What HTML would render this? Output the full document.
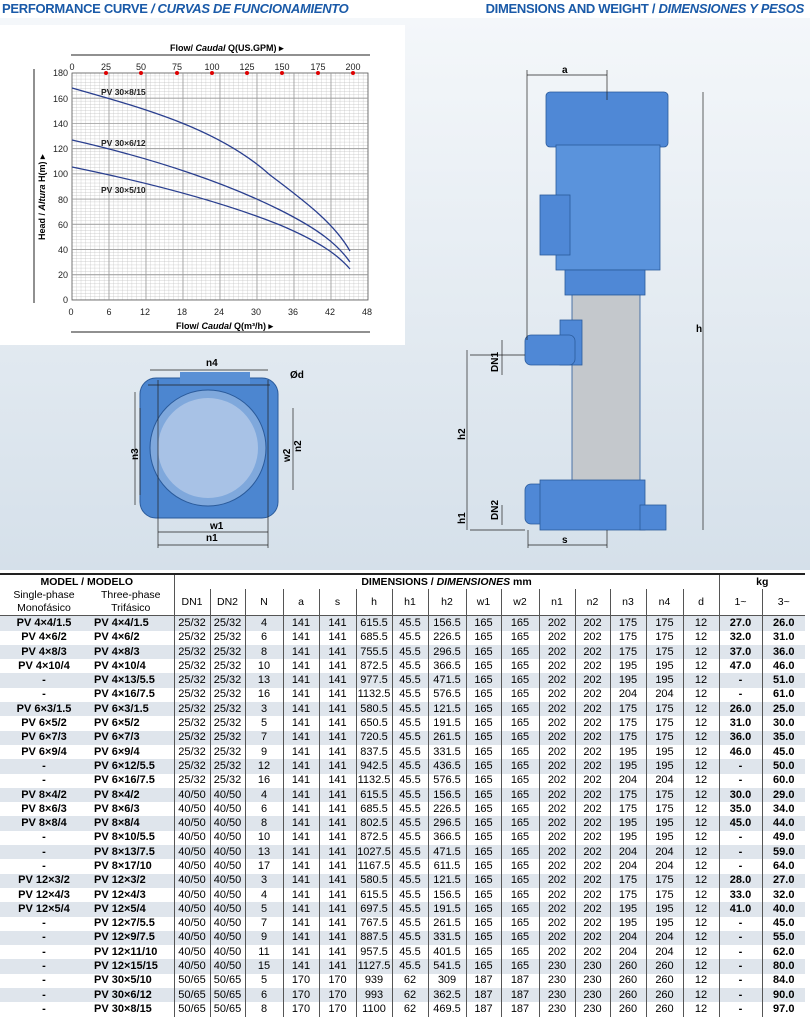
<!DOCTYPE html><html><head><meta charset="utf-8"><style>
body{margin:0;width:810px;height:1033px;position:relative;font-family:"Liberation Sans",sans-serif;background:#fff;overflow:hidden}
.bg{position:absolute;left:0;top:18px;width:810px;height:552px;background:linear-gradient(#f4f7fa,#d5e0ea)}
.h{position:absolute;top:1px;font-weight:bold;color:#1a5aa8;font-size:13px;letter-spacing:-0.3px}
table{position:absolute;left:0;top:573px;border-collapse:collapse;font-size:11px;font-family:"Liberation Sans Narrow","Liberation Sans",sans-serif}
td{border-left:1px solid #555;text-align:center;height:14.3px;padding:0;line-height:13px}
tr.s td{background:#dfe5ec}
td.m{font-weight:bold;border-left:none}
td.b{font-weight:bold}
thead td{font-size:10.5px;background:#fff}
</style></head><body>
<div class="bg"></div>
<div class="h" style="left:2px">PERFORMANCE CURVE <i>/ CURVAS DE FUNCIONAMIENTO</i></div>
<div class="h" style="right:6px">DIMENSIONS AND WEIGHT / <i>DIMENSIONES Y PESOS</i></div>
<div style="position:absolute;left:0;top:25px;width:405px;height:320px;background:#fff"></div>
<svg style="position:absolute;left:0;top:0" width="810" height="570">
<defs><pattern id="g" width="4.625" height="3.15" patternUnits="userSpaceOnUse" x="72" y="73"><path d="M4.625 0V3.15M0 3.15H4.625" stroke="#bbb" stroke-width="0.6" fill="none"/></pattern></defs>
<rect x="72" y="73" width="296" height="227" fill="url(#g)" stroke="#555" stroke-width="0.8"/>
<g stroke="#999" stroke-width="0.8">
<path d="M72 98.2H368M72 123.4H368M72 148.7H368M72 173.9H368M72 199.1H368M72 224.3H368M72 249.6H368M72 274.8H368"/>
<path d="M109 73V300M146 73V300M183 73V300M220 73V300M257 73V300M294 73V300M331 73V300"/></g>
<line x1="71" y1="55" x2="370" y2="55" stroke="#222"/><line x1="71" y1="332" x2="370" y2="332" stroke="#222"/>
<line x1="34" y1="69" x2="34" y2="303" stroke="#222"/>
<g fill="#d00"><circle cx="106" cy="73" r="2"/><circle cx="141" cy="73" r="2"/><circle cx="177" cy="73" r="2"/><circle cx="212" cy="73" r="2"/><circle cx="247" cy="73" r="2"/><circle cx="282" cy="73" r="2"/><circle cx="318" cy="73" r="2"/><circle cx="353" cy="73" r="2"/></g>
<g font-size="9" fill="#222" text-anchor="middle" font-family="Liberation Sans"><text x="72" y="70">0</text><text x="106" y="70">25</text><text x="141" y="70">50</text><text x="177" y="70">75</text><text x="212" y="70">100</text><text x="247" y="70">125</text><text x="282" y="70">150</text><text x="318" y="70">175</text><text x="353" y="70">200</text>
<text x="71" y="315">0</text><text x="109" y="315">6</text><text x="145" y="315">12</text><text x="182" y="315">18</text><text x="219" y="315">24</text><text x="256" y="315">30</text><text x="293" y="315">36</text><text x="330" y="315">42</text><text x="367" y="315">48</text></g>
<g font-size="9" fill="#222" text-anchor="end"><text x="68" y="76">180</text><text x="68" y="102">160</text><text x="68" y="127">140</text><text x="68" y="152">120</text><text x="68" y="177">100</text><text x="68" y="203">80</text><text x="68" y="228">60</text><text x="68" y="253">40</text><text x="68" y="278">20</text><text x="68" y="303">0</text></g>
<text x="170" y="51" font-size="9" font-weight="bold">Flow/ <tspan font-style="italic">Caudal</tspan> Q(US.GPM) ▸</text>
<text x="176" y="329" font-size="9" font-weight="bold">Flow/ <tspan font-style="italic">Caudal</tspan> Q(m³/h) ▸</text>
<text transform="translate(45,240) rotate(-90)" font-size="9" font-weight="bold">Head / <tspan font-style="italic">Altura</tspan> H(m) ▸</text>
<g font-size="8.5" font-weight="bold" fill="#222"><text x="101" y="95">PV 30×8/15</text><text x="101" y="146">PV 30×6/12</text><text x="101" y="193">PV 30×5/10</text></g>
<g fill="none" stroke="#2a3f8f" stroke-width="1.3">
<path d="M72 88 C150 110,220 130,270 175 C310 205,335 225,350 251"/>
<path d="M72 140 C160 160,230 185,280 210 C320 230,338 245,350 262"/>
<path d="M72 167 C160 185,230 205,280 225 C320 242,338 255,350 269"/></g>
<rect x="140" y="378" width="138" height="140" rx="16" fill="#4c86d0" stroke="#2a5a9a"/>
<rect x="180" y="372" width="70" height="12" fill="#5a90d5"/>
<circle cx="208" cy="448" r="58" fill="#7fa8dc" stroke="#2a5a9a"/>
<circle cx="208" cy="448" r="50" fill="#a8c2e6"/>
<g stroke="#222" stroke-width="0.7" fill="none"><path d="M158 380V548M268 380V548M158 545H268M158 532H268M150 370H268M293 408V490M140 408V495M135 392V505M148 385H270"/></g>
<g font-size="10" font-weight="bold"><text x="206" y="366">n4</text><text x="210" y="529">w1</text><text x="206" y="541">n1</text><text transform="translate(138,460) rotate(-90)">n3</text><text transform="translate(290,462) rotate(-90)">w2</text><text transform="translate(301,452) rotate(-90)">n2</text><text x="290" y="378">Ød</text></g>
<g stroke="#2a5a9a" stroke-width="0.8">
<rect x="546" y="92" width="122" height="55" rx="4" fill="#4f88d6"/>
<rect x="556" y="145" width="104" height="125" fill="#5a93dc"/>
<rect x="540" y="195" width="30" height="60" fill="#4f88d6"/>
<rect x="565" y="270" width="80" height="25" fill="#4f88d6"/>
<rect x="572" y="295" width="68" height="190" fill="#c4c8cc"/>
<rect x="560" y="320" width="22" height="45" fill="#4f88d6"/>
<rect x="525" y="335" width="50" height="30" rx="6" fill="#4f88d6"/>
<rect x="525" y="484" width="45" height="40" rx="6" fill="#4f88d6"/>
<rect x="540" y="480" width="105" height="50" fill="#4f88d6"/>
<rect x="640" y="505" width="26" height="25" fill="#4f88d6"/></g>
<g stroke="#222" stroke-width="0.7" fill="none"><path d="M527 70V340M607 70V100M527 75H607M703 92V530M528 545H607M528 530V548M607 530V548M467 350V530M470 355H525M470 530H525M502 340V375M502 505V525"/></g>
<g font-size="10" font-weight="bold"><text x="562" y="73">a</text><text x="562" y="543">s</text><text x="696" y="332">h</text><text transform="translate(465,440) rotate(-90)">h2</text><text transform="translate(465,524) rotate(-90)">h1</text><text transform="translate(498,372) rotate(-90)">DN1</text><text transform="translate(498,520) rotate(-90)">DN2</text></g>
</svg>
<table>
<colgroup><col style="width:88px"><col style="width:86px"><col style="width:36px"><col style="width:35px"><col style="width:38px"><col style="width:36px"><col style="width:37px"><col style="width:36px"><col style="width:36px"><col style="width:38px"><col style="width:35px"><col style="width:38px"><col style="width:36px"><col style="width:35px"><col style="width:36px"><col style="width:37px"><col style="width:36px"><col style="width:43px"><col style="width:43px"></colgroup>
<thead>
<tr style="border-top:2px solid #222"><td colspan="2" style="border:none;font-weight:bold;height:13px">MODEL / MODELO</td><td colspan="15" style="font-weight:bold">DIMENSIONS / <i>DIMENSIONES</i> mm</td><td colspan="2" style="font-weight:bold">kg</td></tr>
<tr style="border-bottom:1px solid #555"><td style="border:none;height:26px">Single-phase<br>Monofásico</td><td style="border:none">Three-phase<br>Trifásico</td><td>DN1</td><td>DN2</td><td>N</td><td>a</td><td>s</td><td>h</td><td>h1</td><td>h2</td><td>w1</td><td>w2</td><td>n1</td><td>n2</td><td>n3</td><td>n4</td><td>d</td><td>1~</td><td>3~</td></tr>
</thead>
<tbody id="tb"></tbody></table>
<script>
var d=[["PV 4×4/1.5","PV 4×4/1.5","25/32",4,141,141,"615.5",156.5,165,165,202,202,175,175,"27.0","26.0"],
["PV 4×6/2","PV 4×6/2","25/32",6,141,141,"685.5",226.5,165,165,202,202,175,175,"32.0","31.0"],
["PV 4×8/3","PV 4×8/3","25/32",8,141,141,"755.5",296.5,165,165,202,202,175,175,"37.0","36.0"],
["PV 4×10/4","PV 4×10/4","25/32",10,141,141,"872.5",366.5,165,165,202,202,195,195,"47.0","46.0"],
["-","PV 4×13/5.5","25/32",13,141,141,"977.5",471.5,165,165,202,202,195,195,"-","51.0"],
["-","PV 4×16/7.5","25/32",16,141,141,"1132.5",576.5,165,165,202,202,204,204,"-","61.0"],
["PV 6×3/1.5","PV 6×3/1.5","25/32",3,141,141,"580.5",121.5,165,165,202,202,175,175,"26.0","25.0"],
["PV 6×5/2","PV 6×5/2","25/32",5,141,141,"650.5",191.5,165,165,202,202,175,175,"31.0","30.0"],
["PV 6×7/3","PV 6×7/3","25/32",7,141,141,"720.5",261.5,165,165,202,202,175,175,"36.0","35.0"],
["PV 6×9/4","PV 6×9/4","25/32",9,141,141,"837.5",331.5,165,165,202,202,195,195,"46.0","45.0"],
["-","PV 6×12/5.5","25/32",12,141,141,"942.5",436.5,165,165,202,202,195,195,"-","50.0"],
["-","PV 6×16/7.5","25/32",16,141,141,"1132.5",576.5,165,165,202,202,204,204,"-","60.0"],
["PV 8×4/2","PV 8×4/2","40/50",4,141,141,"615.5",156.5,165,165,202,202,175,175,"30.0","29.0"],
["PV 8×6/3","PV 8×6/3","40/50",6,141,141,"685.5",226.5,165,165,202,202,175,175,"35.0","34.0"],
["PV 8×8/4","PV 8×8/4","40/50",8,141,141,"802.5",296.5,165,165,202,202,195,195,"45.0","44.0"],
["-","PV 8×10/5.5","40/50",10,141,141,"872.5",366.5,165,165,202,202,195,195,"-","49.0"],
["-","PV 8×13/7.5","40/50",13,141,141,"1027.5",471.5,165,165,202,202,204,204,"-","59.0"],
["-","PV 8×17/10","40/50",17,141,141,"1167.5",611.5,165,165,202,202,204,204,"-","64.0"],
["PV 12×3/2","PV 12×3/2","40/50",3,141,141,"580.5",121.5,165,165,202,202,175,175,"28.0","27.0"],
["PV 12×4/3","PV 12×4/3","40/50",4,141,141,"615.5",156.5,165,165,202,202,175,175,"33.0","32.0"],
["PV 12×5/4","PV 12×5/4","40/50",5,141,141,"697.5",191.5,165,165,202,202,195,195,"41.0","40.0"],
["-","PV 12×7/5.5","40/50",7,141,141,"767.5",261.5,165,165,202,202,195,195,"-","45.0"],
["-","PV 12×9/7.5","40/50",9,141,141,"887.5",331.5,165,165,202,202,204,204,"-","55.0"],
["-","PV 12×11/10","40/50",11,141,141,"957.5",401.5,165,165,202,202,204,204,"-","62.0"],
["-","PV 12×15/15","40/50",15,141,141,"1127.5",541.5,165,165,230,230,260,260,"-","80.0"],
["-","PV 30×5/10","50/65",5,170,170,"939",309,187,187,230,230,260,260,"-","84.0"],
["-","PV 30×6/12","50/65",6,170,170,"993",362.5,187,187,230,230,260,260,"-","90.0"],
["-","PV 30×8/15","50/65",8,170,170,"1100",469.5,187,187,230,230,260,260,"-","97.0"]];
var h="";d.forEach(function(r,i){var h1=r[1].indexOf("30×")>0?"62":"45.5";h+='<tr class="'+(i%2?'':'s')+'"><td class="m">'+r[0]+'</td><td class="m" style="text-align:left;padding-left:6px">'+r[1]+'</td><td>'+r[2]+'</td><td>'+r[2]+'</td><td>'+r[3]+'</td><td>'+r[4]+'</td><td>'+r[5]+'</td><td>'+r[6]+'</td><td>'+h1+'</td><td>'+r[7]+'</td><td>'+r[8]+'</td><td>'+r[9]+'</td><td>'+r[10]+'</td><td>'+r[11]+'</td><td>'+r[12]+'</td><td>'+r[13]+'</td><td>12</td><td class="b">'+r[14]+'</td><td class="b">'+r[15]+'</td></tr>';});
document.getElementById("tb").innerHTML=h;
</script>
</body></html>
